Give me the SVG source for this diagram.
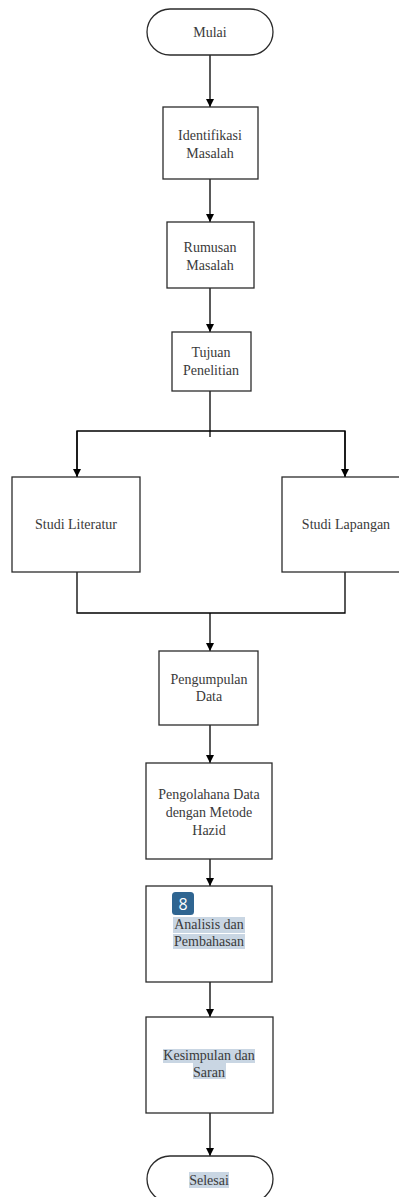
<svg xmlns="http://www.w3.org/2000/svg" width="399" height="1197" viewBox="0 0 399 1197">
<style>
.box{fill:#fff;stroke:#2b2b2b;stroke-width:1.3}
.t{font-family:"Liberation Serif","Times New Roman",serif;font-size:14px;fill:#3a3a3a;text-anchor:middle}
.ln{fill:none;stroke:#000;stroke-width:1.3}
.hl{fill:#c9d6e3}
</style>
<defs>
<marker id="ah" viewBox="0 0 10 10" refX="10" refY="5" markerWidth="8" markerHeight="8" markerUnits="userSpaceOnUse" orient="auto">
<path d="M0,0 L10,5 L0,10 z" fill="#000"/>
</marker>
</defs>
<rect width="399" height="1197" fill="#fff"/>
<g id="connectors">
<line class="ln" x1="210" y1="55" x2="210" y2="107" marker-end="url(#ah)"/>
<line class="ln" x1="210" y1="179" x2="210" y2="222" marker-end="url(#ah)"/>
<line class="ln" x1="210" y1="288" x2="210" y2="332" marker-end="url(#ah)"/>
<line class="ln" x1="210" y1="391" x2="210" y2="437"/>
<polyline class="ln" points="77,477 77,431 345,431 345,477"/>
<line class="ln" x1="77" y1="431" x2="77" y2="477" marker-end="url(#ah)"/>
<line class="ln" x1="345" y1="431" x2="345" y2="477" marker-end="url(#ah)"/>
<polyline class="ln" points="77,572 77,613 345,613 345,572"/>
<line class="ln" x1="210" y1="613" x2="210" y2="651" marker-end="url(#ah)"/>
<line class="ln" x1="210" y1="725" x2="210" y2="763" marker-end="url(#ah)"/>
<line class="ln" x1="210" y1="859" x2="210" y2="886" marker-end="url(#ah)"/>
<line class="ln" x1="210" y1="982" x2="210" y2="1017" marker-end="url(#ah)"/>
<line class="ln" x1="210" y1="1113" x2="210" y2="1156" marker-end="url(#ah)"/>
</g>
<g id="mulai">
<rect class="box" x="147" y="9" width="126" height="46" rx="23"/>
<text class="t" x="210" y="37">Mulai</text>
</g>
<g id="identifikasi">
<rect class="box" x="163" y="107" width="95" height="72"/>
<text class="t" x="210" y="140">Identifikasi</text>
<text class="t" x="210" y="158">Masalah</text>
</g>
<g id="rumusan">
<rect class="box" x="167" y="222" width="87" height="66"/>
<text class="t" x="210" y="252">Rumusan</text>
<text class="t" x="210" y="270">Masalah</text>
</g>
<g id="tujuan">
<rect class="box" x="172" y="332" width="79" height="59"/>
<text class="t" x="211" y="357">Tujuan</text>
<text class="t" x="211" y="375">Penelitian</text>
</g>
<g id="studi-literatur">
<rect class="box" x="12" y="477" width="128" height="95"/>
<text class="t" x="76" y="529">Studi Literatur</text>
</g>
<g id="studi-lapangan">
<rect class="box" x="282" y="477" width="130" height="95"/>
<text class="t" x="346" y="529">Studi Lapangan</text>
</g>
<g id="pengumpulan">
<rect class="box" x="159" y="651" width="99" height="74"/>
<text class="t" x="209" y="684">Pengumpulan</text>
<text class="t" x="209" y="701">Data</text>
</g>
<g id="pengolahan">
<rect class="box" x="146" y="763" width="126" height="96"/>
<text class="t" x="209" y="799">Pengolahana Data</text>
<text class="t" x="209" y="817">dengan Metode</text>
<text class="t" x="209" y="835">Hazid</text>
</g>
<g id="analisis">
<rect class="box" x="146" y="886" width="126" height="96"/>
<rect class="hl" x="173" y="917" width="72" height="16"/>
<rect class="hl" x="173" y="934" width="72" height="15"/>
<text class="t" x="209" y="929">Analisis dan</text>
<text class="t" x="209" y="946">Pembahasan</text>
<rect x="172" y="892" width="22" height="23" rx="3.5" fill="#2f6591"/>
<text x="183" y="910" font-family="'Open Sans','Noto Sans',sans-serif" font-size="16" fill="#fff" text-anchor="middle">8</text>
</g>
<g id="kesimpulan">
<rect class="box" x="146" y="1017" width="127" height="96"/>
<rect class="hl" x="163" y="1049" width="92" height="14"/>
<rect class="hl" x="193" y="1063" width="33" height="16"/>
<text class="t" x="209" y="1060">Kesimpulan dan</text>
<text class="t" x="209" y="1077">Saran</text>
</g>
<g id="selesai">
<rect class="box" x="147" y="1156" width="126" height="46" rx="23"/>
<rect class="hl" x="189" y="1172" width="40" height="16"/>
<text class="t" x="209" y="1185">Selesai</text>
</g>
</svg>
